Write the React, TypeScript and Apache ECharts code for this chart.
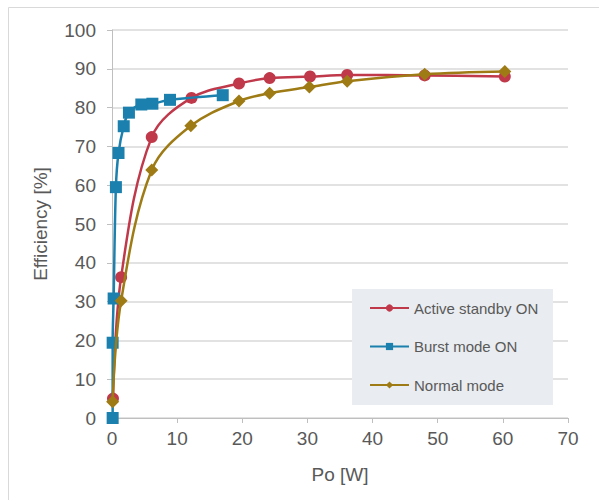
import React, { useEffect, useRef } from "react";
import * as echarts from "echarts";

const seriesNames = ["Active standby ON", "Burst mode ON", "Normal mode"];

const activeStandby: [number, number][] = [
  [0.15, 5.0], [1.4, 36.3], [6.1, 72.4], [12.2, 82.5], [19.5, 86.2],
  [24.2, 87.6], [30.4, 88.0], [36.1, 88.4], [48.0, 88.3], [60.3, 88.0],
];

const burstMode: [number, number][] = [
  [0.1, 0], [0.1, 19.4], [0.25, 30.8], [0.6, 59.5], [1.0, 68.3],
  [1.8, 75.2], [2.6, 78.7], [4.5, 80.8], [6.2, 81.0], [8.9, 82.0], [17.0, 83.2],
];

const normalMode: [number, number][] = [
  [0.1, 4.2], [1.4, 30.2], [6.1, 63.9], [12.1, 75.3], [19.5, 81.7],
  [24.2, 83.7], [30.3, 85.3], [36.1, 86.8], [48.0, 88.6], [60.3, 89.3],
];

const colors = ["#c0394b", "#1b80ad", "#9e7b14"];
const symbols = ["circle", "rect", "diamond"];
const symbolSizes = [12, 12, 13];

export default function App() {
  const ref = useRef<HTMLDivElement>(null);
  useEffect(() => {
    if (!ref.current) return;
    const chart = echarts.init(ref.current, null, { renderer: "svg" });
    const font = "'Liberation Sans', Arial, sans-serif";
    const dataSets = [activeStandby, burstMode, normalMode];
    chart.setOption({
      animation: false,
      textStyle: { fontFamily: font },
      graphic: [
        {
          type: "rect",
          shape: { x: 8.5, y: 7.5, width: 600, height: 500 },
          style: { fill: "none", stroke: "#d9d9d9", lineWidth: 1 },
          silent: true,
          z: -10,
        },
        {
          type: "rect",
          shape: { x: 352, y: 289, width: 201, height: 116 },
          style: { fill: "#e9ecf0" },
          silent: true,
          z: 5,
        },
      ],
      grid: { left: 112, right: 31, top: 30, bottom: 82 },
      xAxis: {
        type: "value",
        min: 0,
        max: 70,
        interval: 10,
        name: "Po [W]",
        nameLocation: "middle",
        nameGap: 47,
        nameTextStyle: { fontSize: 19, color: "#595959", fontFamily: font },
        axisLine: { show: true, lineStyle: { color: "#bfbfbf", width: 1 } },
        axisTick: { show: true, length: 5, lineStyle: { color: "#bfbfbf" } },
        axisLabel: { fontSize: 19, color: "#595959", margin: 11, fontFamily: font },
        splitLine: { show: false },
      },
      yAxis: {
        type: "value",
        min: 0,
        max: 100,
        interval: 10,
        name: "Efficiency [%]",
        nameLocation: "middle",
        nameGap: 62,
        nameRotate: 90,
        nameTextStyle: { fontSize: 19, color: "#595959", fontFamily: font },
        axisLine: { show: true, lineStyle: { color: "#bfbfbf", width: 1 } },
        axisTick: { show: true, length: 5, lineStyle: { color: "#bfbfbf" } },
        axisLabel: { fontSize: 19, color: "#595959", margin: 16, fontFamily: font },
        splitLine: { show: true, lineStyle: { color: "#d9d9d9", width: 1.5 } },
      },
      legend: {
        orient: "vertical",
        left: 350,
        top: 289,
        padding: [11.5, 10, 13, 19],
        itemWidth: 39,
        itemHeight: 9,
        itemGap: 23.5,
        z: 6,
        textStyle: { fontSize: 15, color: "#595959", fontFamily: font },
        data: seriesNames,
      },
      series: seriesNames.map((name, i) => ({
        name,
        type: "line",
        data: dataSets[i],
        smooth: 0.35,
        symbol: symbols[i],
        symbolSize: symbolSizes[i],
        lineStyle: { color: colors[i], width: 2.5 },
        itemStyle: { color: colors[i] },
        z: 2 + i,
      })),
    });
    return () => chart.dispose();
  }, []);
  return (
    <div
      ref={ref}
      style={{ position: "absolute", left: 0, top: 0, width: 599, height: 500, background: "#fff" }}
    />
  );
}
